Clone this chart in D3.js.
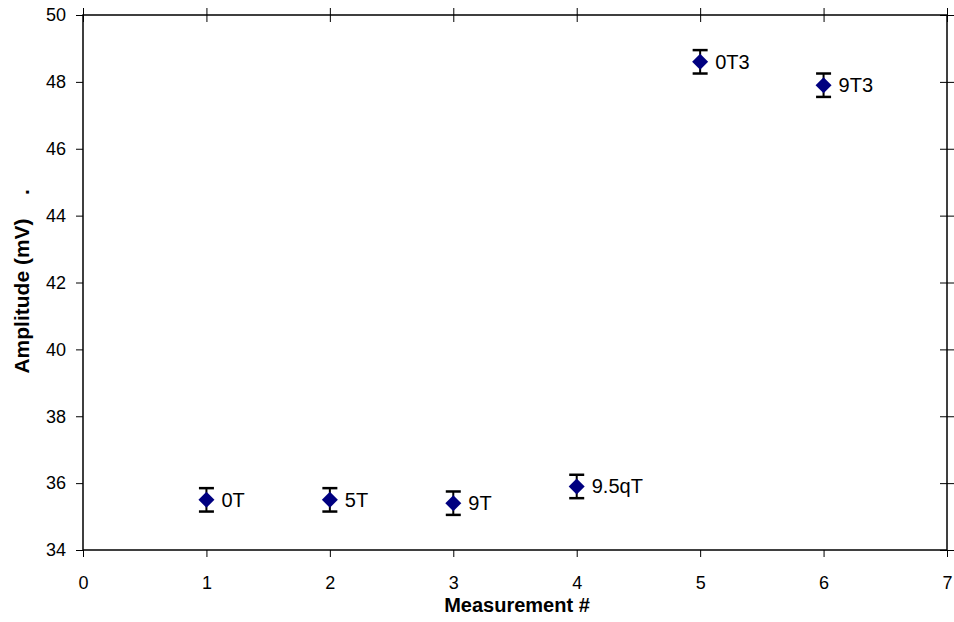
<!DOCTYPE html>
<html><head><meta charset="utf-8">
<script src="https://cdn.jsdelivr.net/npm/d3@7"></script>
<style>body{margin:0;background:#fff;} text{font-family:Arial,"Liberation Sans",sans-serif;}</style>
</head><body><svg id="c" width="954" height="622"></svg>
<script>
const measurement = [1, 2, 3, 4, 5, 6];
const amplitude = [35.5, 35.5, 35.4, 35.9, 48.6, 47.9];
const errors = [0.35, 0.35, 0.35, 0.35, 0.35, 0.35];
const pointLabels = ["0T", "5T", "9T", "9.5qT", "0T3", "9T3"];
const xTicks = [0, 1, 2, 3, 4, 5, 6, 7];
const yTicks = [34, 36, 38, 40, 42, 44, 46, 48, 50];

const svg = d3.select("#c");
const L = 83, R = 947, T = 15, B = 550;
const x = d3.scaleLinear().domain([0, 7]).range([L, R]);
const y = d3.scaleLinear().domain([34, 50]).range([B, T]);

svg.append("rect").attr("x", L).attr("y", T).attr("width", R - L).attr("height", B - T)
  .attr("fill", "none").attr("stroke", "#000").attr("stroke-width", 1.5);

const xa = svg.append("g").attr("transform", `translate(0,${B})`)
  .call(d3.axisBottom(x).tickValues(xTicks).tickSize(7).tickPadding(19).tickFormat(d3.format("d")));
const ya = svg.append("g").attr("transform", `translate(${L},0)`)
  .call(d3.axisLeft(y).tickValues(yTicks).tickSize(7).tickPadding(10).tickFormat(d3.format("d")));
[xa, ya].forEach(g => {
  g.select(".domain").remove();
  g.selectAll("line").attr("stroke", "#000");
  g.selectAll("text").attr("font-size", 18).attr("fill", "#000")
   .attr("font-family", "Arial, 'Liberation Sans', sans-serif");
});
const ta = svg.append("g").attr("transform", `translate(0,${T})`)
  .call(d3.axisTop(x).tickValues(xTicks).tickSize(6).tickFormat(""));
ta.select(".domain").remove();
ta.selectAll(".tick line").attr("y2", 7).attr("y1", -7).attr("stroke", "#000");
const ra = svg.append("g").attr("transform", `translate(${R},0)`)
  .call(d3.axisRight(y).tickValues(yTicks).tickSize(6).tickFormat(""));
ra.select(".domain").remove();
ra.selectAll(".tick line").attr("x1", -7).attr("x2", 7).attr("stroke", "#000");

svg.append("text").attr("x", 517).attr("y", 612).attr("text-anchor", "middle")
  .attr("font-size", 20).attr("font-weight", "bold").text("Measurement #");
svg.append("text").attr("transform", `translate(29,296) rotate(-90)`)
  .attr("text-anchor", "middle").attr("font-size", 21).attr("font-weight", "bold").text("Amplitude (mV)");
svg.append("text").attr("transform", `translate(29,192) rotate(-90)`)
  .attr("text-anchor", "middle").attr("font-size", 21).attr("font-weight", "bold").text(".");

const data = measurement.map((m, i) => ({ m, v: amplitude[i], e: errors[i], label: pointLabels[i] }));
const g = svg.append("g");
const pts = g.selectAll("g.pt").data(data).join("g").attr("class", "pt");
pts.append("line").attr("x1", d => x(d.m)).attr("x2", d => x(d.m))
  .attr("y1", d => y(d.v + d.e)).attr("y2", d => y(d.v - d.e)).attr("stroke", "#000").attr("stroke-width", 2);
pts.append("line").attr("x1", d => x(d.m) - 7.5).attr("x2", d => x(d.m) + 7.5)
  .attr("y1", d => y(d.v + d.e)).attr("y2", d => y(d.v + d.e)).attr("stroke", "#000").attr("stroke-width", 2.5);
pts.append("line").attr("x1", d => x(d.m) - 7.5).attr("x2", d => x(d.m) + 7.5)
  .attr("y1", d => y(d.v - d.e)).attr("y2", d => y(d.v - d.e)).attr("stroke", "#000").attr("stroke-width", 2.5);
pts.append("path").attr("transform", d => `translate(${x(d.m)},${y(d.v)})`)
  .attr("d", "M0,-8L8,0L0,8L-8,0Z").attr("fill", "#000080");
pts.append("text").attr("x", d => x(d.m) + 15).attr("y", d => y(d.v) + 7)
  .attr("font-size", 20).attr("fill", "#000").text(d => d.label);
</script></body></html>
